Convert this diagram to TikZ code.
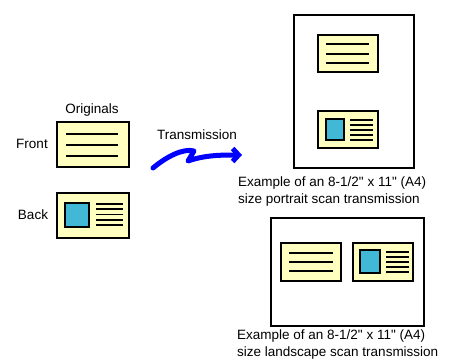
\documentclass[tikz,border=0pt]{standalone}
\usepackage{fontspec}
\setmainfont{Liberation Sans}[Ligatures=TeXOff]
\usetikzlibrary{arrows.meta}
\definecolor{cardfill}{RGB}{255,255,192}
\definecolor{photoblue}{RGB}{64,184,214}

\begin{document}
\begin{tikzpicture}[
    x=1pt, y=-1pt,
    page/.style={draw=black, fill=white, line width=2pt},
    card/.style={draw=black, fill=cardfill, line width=2pt},
    photo/.style={draw=black, fill=photoblue, line width=2pt},
    txtline/.style={line width=2pt},
    thinline/.style={line width=1.6pt},
    lbl/.style={font=\fontsize{13.5}{17}\selectfont, inner sep=0pt},
    caption/.style={lbl, align=left, anchor=north west},
    sendarrow/.style={draw=blue, line width=5pt, line cap=round, line join=round,
        -{Straight Barb[length=6pt,width=13pt]}},
]
\useasboundingbox (0,0) rectangle (459,362);
% originals
\node[lbl] (originals) at (92,110) {Originals};
\node[lbl] (front) at (32,144) {Front};
\node[lbl] (back) at (33,215) {Back};
\draw[card] (57,122) rectangle (129,167);
\foreach \y in {134,145,156} \draw[txtline] (66,\y) -- (118,\y);
\draw[card] (57,193) rectangle (129,238);
\draw[photo] (65,203) rectangle (89,227);
\foreach \y in {204,209.25,214.5,219.75,225} \draw[thinline] (96,\y) -- (123,\y);
% transmission
\node[lbl] (transmit) at (197,135) {Transmission};
\coordinate (sendstart) at (153,168);
\coordinate (sendend) at (242,155);
\draw[sendarrow] (sendstart) .. controls (166,157) and (183,148) .. (194,151)
    -- (188,161) .. controls (205,155) and (222,155) .. (sendend);
% portrait
\draw[page] (294,15) rectangle (414,168);
\draw[card] (318,35) rectangle (378,72);
\foreach \y in {44,53.5,63} \draw[txtline] (326,\y) -- (369,\y);
\draw[card] (318,111) rectangle (378,148);
\draw[photo] (326,119) rectangle (344,140);
\foreach \y in {120,125,130,135,140} \draw[thinline] (350,\y) -- (373,\y);
\node[caption] (portraitcap) at (238,176.5)
    {Example of an 8-1/2" x 11" (A4)\\size portrait scan transmission};
% landscape
\draw[page] (271,218) rectangle (424,326);
\draw[card] (281,243) rectangle (341,281);
\foreach \y in {253,262,271} \draw[txtline] (289,\y) -- (333,\y);
\draw[card] (353,243) rectangle (413,281);
\draw[photo] (360,250) rectangle (380,273);
\foreach \y in {252,257,262,267,272} \draw[thinline] (386,\y) -- (409,\y);
\node[caption] (landscapecap) at (237,329.5)
    {Example of an 8-1/2" x 11" (A4)\\size landscape scan transmission};
\end{tikzpicture}
\end{document}
